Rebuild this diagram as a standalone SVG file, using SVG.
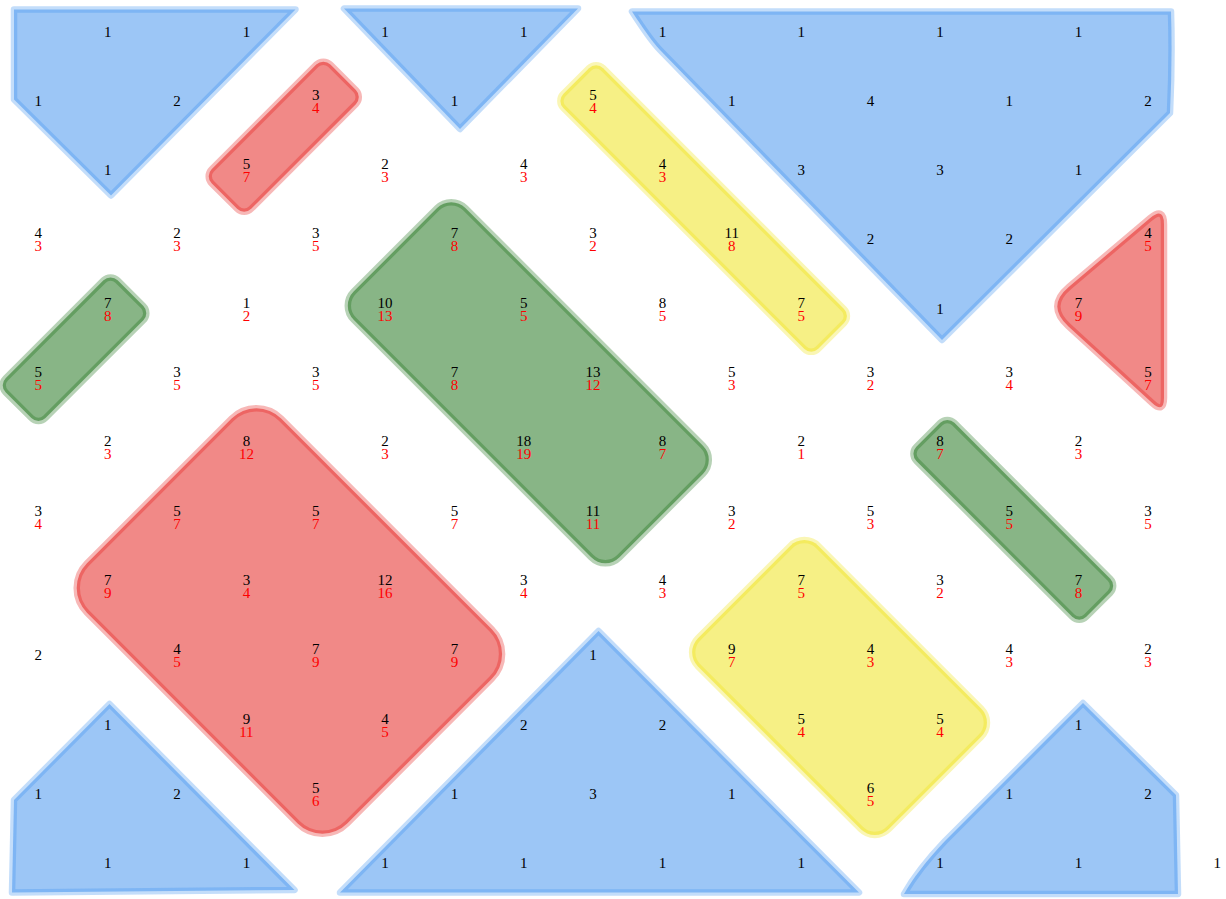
<svg xmlns="http://www.w3.org/2000/svg" width="1226" height="899" viewBox="0 0 1226 899">
<style>
.shape { fill-opacity: 0.5; stroke-opacity: 0.3; stroke-width: 6.5; stroke-linejoin: round; }
.blue { fill: rgb(57,141,237); stroke: rgb(57,141,237); }
.red { fill: rgb(227,19,15); stroke: rgb(227,19,15); }
.green { fill: rgb(17,107,13); stroke: rgb(17,107,13); }
.yellow { fill: rgb(237,225,11); stroke: rgb(237,225,11); }
text { font-family: "Liberation Serif", "Times New Roman", serif; font-size: 15px; text-anchor: middle; fill: #000; }
tspan.r { fill: #ff0000; }
</style>
<rect width="1226" height="899" fill="#ffffff"/>
<g id="regions">
  <path id="blue-tl" class="shape blue" d="M14,9.5 L295.5,9.5 L111,195.5 L14,99.5 Z"/>
  <path id="blue-tm" class="shape blue" d="M344,8.5 L578,8.5 L460,129 Z"/>
  <path id="blue-tr" class="shape blue" d="M632,11.5 L1171,11.5 Q1172.5,60 1170,113 L942,340 L660,50 C652,41.7 640,24 632,11.5 Z"/>
  <path id="blue-bl" class="shape blue" d="M109.5,704 L294.5,890 L12,892.5 L14,800 Z"/>
  <path id="blue-bm" class="shape blue" d="M598.5,631 L859,892.5 L340,892.5 Z"/>
  <path id="blue-br" class="shape blue" d="M1083,703 L1176,795 L1178,894 L904,894 C912,880 925,862 945,841 Z"/>
  <rect id="red-small" class="shape red" x="-84" y="-28" width="168" height="56" rx="10" transform="translate(283.75,136.7) rotate(-45)"/>
  <path id="red-right" class="shape red" d="M1069,286.7 L1150.2,218.1 Q1164,206.5 1164,224.5 L1164,397.8 Q1164,413.8 1152.2,403 L1068.2,326.2 Q1046,306 1069,286.7 Z"/>
  <rect id="red-big" class="shape red" x="-184" y="-137.3" width="368" height="274.6" rx="35" transform="translate(289.4,621) rotate(45)"/>
  <rect id="green-small" class="shape green" x="-79.2" y="-28.2" width="158.4" height="56.4" rx="10" transform="translate(74.5,349.2) rotate(-45)"/>
  <rect id="green-big" class="shape green" x="-188" y="-79" width="376" height="158" rx="20" transform="translate(528.3,382.7) rotate(45)"/>
  <rect id="green-right" class="shape green" x="-120.2" y="-26.9" width="240.4" height="53.8" rx="10" transform="translate(1013.3,519.8) rotate(45)"/>
  <rect id="yellow-top" class="shape yellow" x="-180.3" y="-28.2" width="360.6" height="56.4" rx="10" transform="translate(703.65,208.5) rotate(45)"/>
  <rect id="yellow-bottom" class="shape yellow" x="-135" y="-85.2" width="270" height="170.4" rx="20" transform="translate(839.55,687.5) rotate(45)"/>
</g>
<g id="labels">
  <!-- row 0 -->
  <text x="107.7" y="36.5">1</text>
  <text x="246.4" y="36.5">1</text>
  <text x="385.1" y="36.5">1</text>
  <text x="523.8" y="36.5">1</text>
  <text x="662.5" y="36.5">1</text>
  <text x="801.2" y="36.5">1</text>
  <text x="939.9" y="36.5">1</text>
  <text x="1078.6" y="36.5">1</text>
  <!-- row 1 -->
  <text x="38.3" y="105.8">1</text>
  <text x="177" y="105.8">2</text>
  <text x="315.7" y="99.8">3<tspan class="r" x="315.7" dy="13">4</tspan></text>
  <text x="454.4" y="105.8">1</text>
  <text x="593.1" y="99.8">5<tspan class="r" x="593.1" dy="13">4</tspan></text>
  <text x="731.8" y="105.8">1</text>
  <text x="870.5" y="105.8">4</text>
  <text x="1009.2" y="105.8">1</text>
  <text x="1147.9" y="105.8">2</text>
  <!-- row 2 -->
  <text x="107.7" y="175.1">1</text>
  <text x="246.4" y="169.1">5<tspan class="r" x="246.4" dy="13">7</tspan></text>
  <text x="385.1" y="169.1">2<tspan class="r" x="385.1" dy="13">3</tspan></text>
  <text x="523.8" y="169.1">4<tspan class="r" x="523.8" dy="13">3</tspan></text>
  <text x="662.5" y="169.1">4<tspan class="r" x="662.5" dy="13">3</tspan></text>
  <text x="801.2" y="175.1">3</text>
  <text x="939.9" y="175.1">3</text>
  <text x="1078.6" y="175.1">1</text>
  <!-- row 3 -->
  <text x="38.3" y="238.4">4<tspan class="r" x="38.3" dy="13">3</tspan></text>
  <text x="177" y="238.4">2<tspan class="r" x="177" dy="13">3</tspan></text>
  <text x="315.7" y="238.4">3<tspan class="r" x="315.7" dy="13">5</tspan></text>
  <text x="454.4" y="238.4">7<tspan class="r" x="454.4" dy="13">8</tspan></text>
  <text x="593.1" y="238.4">3<tspan class="r" x="593.1" dy="13">2</tspan></text>
  <text x="731.8" y="238.4">11<tspan class="r" x="731.8" dy="13">8</tspan></text>
  <text x="870.5" y="244.4">2</text>
  <text x="1009.2" y="244.4">2</text>
  <text x="1147.9" y="238.4">4<tspan class="r" x="1147.9" dy="13">5</tspan></text>
  <!-- row 4 -->
  <text x="107.7" y="307.7">7<tspan class="r" x="107.7" dy="13">8</tspan></text>
  <text x="246.4" y="307.7">1<tspan class="r" x="246.4" dy="13">2</tspan></text>
  <text x="385.1" y="307.7">10<tspan class="r" x="385.1" dy="13">13</tspan></text>
  <text x="523.8" y="307.7">5<tspan class="r" x="523.8" dy="13">5</tspan></text>
  <text x="662.5" y="307.7">8<tspan class="r" x="662.5" dy="13">5</tspan></text>
  <text x="801.2" y="307.7">7<tspan class="r" x="801.2" dy="13">5</tspan></text>
  <text x="939.9" y="313.7">1</text>
  <text x="1078.6" y="307.7">7<tspan class="r" x="1078.6" dy="13">9</tspan></text>
  <!-- row 5 -->
  <text x="38.3" y="377">5<tspan class="r" x="38.3" dy="13">5</tspan></text>
  <text x="177" y="377">3<tspan class="r" x="177" dy="13">5</tspan></text>
  <text x="315.7" y="377">3<tspan class="r" x="315.7" dy="13">5</tspan></text>
  <text x="454.4" y="377">7<tspan class="r" x="454.4" dy="13">8</tspan></text>
  <text x="593.1" y="377">13<tspan class="r" x="593.1" dy="13">12</tspan></text>
  <text x="731.8" y="377">5<tspan class="r" x="731.8" dy="13">3</tspan></text>
  <text x="870.5" y="377">3<tspan class="r" x="870.5" dy="13">2</tspan></text>
  <text x="1009.2" y="377">3<tspan class="r" x="1009.2" dy="13">4</tspan></text>
  <text x="1147.9" y="377">5<tspan class="r" x="1147.9" dy="13">7</tspan></text>
  <!-- row 6 -->
  <text x="107.7" y="446.3">2<tspan class="r" x="107.7" dy="13">3</tspan></text>
  <text x="246.4" y="446.3">8<tspan class="r" x="246.4" dy="13">12</tspan></text>
  <text x="385.1" y="446.3">2<tspan class="r" x="385.1" dy="13">3</tspan></text>
  <text x="523.8" y="446.3">18<tspan class="r" x="523.8" dy="13">19</tspan></text>
  <text x="662.5" y="446.3">8<tspan class="r" x="662.5" dy="13">7</tspan></text>
  <text x="801.2" y="446.3">2<tspan class="r" x="801.2" dy="13">1</tspan></text>
  <text x="939.9" y="446.3">8<tspan class="r" x="939.9" dy="13">7</tspan></text>
  <text x="1078.6" y="446.3">2<tspan class="r" x="1078.6" dy="13">3</tspan></text>
  <!-- row 7 -->
  <text x="38.3" y="515.6">3<tspan class="r" x="38.3" dy="13">4</tspan></text>
  <text x="177" y="515.6">5<tspan class="r" x="177" dy="13">7</tspan></text>
  <text x="315.7" y="515.6">5<tspan class="r" x="315.7" dy="13">7</tspan></text>
  <text x="454.4" y="515.6">5<tspan class="r" x="454.4" dy="13">7</tspan></text>
  <text x="593.1" y="515.6">11<tspan class="r" x="593.1" dy="13">11</tspan></text>
  <text x="731.8" y="515.6">3<tspan class="r" x="731.8" dy="13">2</tspan></text>
  <text x="870.5" y="515.6">5<tspan class="r" x="870.5" dy="13">3</tspan></text>
  <text x="1009.2" y="515.6">5<tspan class="r" x="1009.2" dy="13">5</tspan></text>
  <text x="1147.9" y="515.6">3<tspan class="r" x="1147.9" dy="13">5</tspan></text>
  <!-- row 8 -->
  <text x="107.7" y="584.9">7<tspan class="r" x="107.7" dy="13">9</tspan></text>
  <text x="246.4" y="584.9">3<tspan class="r" x="246.4" dy="13">4</tspan></text>
  <text x="385.1" y="584.9">12<tspan class="r" x="385.1" dy="13">16</tspan></text>
  <text x="523.8" y="584.9">3<tspan class="r" x="523.8" dy="13">4</tspan></text>
  <text x="662.5" y="584.9">4<tspan class="r" x="662.5" dy="13">3</tspan></text>
  <text x="801.2" y="584.9">7<tspan class="r" x="801.2" dy="13">5</tspan></text>
  <text x="939.9" y="584.9">3<tspan class="r" x="939.9" dy="13">2</tspan></text>
  <text x="1078.6" y="584.9">7<tspan class="r" x="1078.6" dy="13">8</tspan></text>
  <!-- row 9 -->
  <text x="38.3" y="660.2">2</text>
  <text x="177" y="654.2">4<tspan class="r" x="177" dy="13">5</tspan></text>
  <text x="315.7" y="654.2">7<tspan class="r" x="315.7" dy="13">9</tspan></text>
  <text x="454.4" y="654.2">7<tspan class="r" x="454.4" dy="13">9</tspan></text>
  <text x="593.1" y="660.2">1</text>
  <text x="731.8" y="654.2">9<tspan class="r" x="731.8" dy="13">7</tspan></text>
  <text x="870.5" y="654.2">4<tspan class="r" x="870.5" dy="13">3</tspan></text>
  <text x="1009.2" y="654.2">4<tspan class="r" x="1009.2" dy="13">3</tspan></text>
  <text x="1147.9" y="654.2">2<tspan class="r" x="1147.9" dy="13">3</tspan></text>
  <!-- row 10 -->
  <text x="107.7" y="729.5">1</text>
  <text x="246.4" y="723.5">9<tspan class="r" x="246.4" dy="13">11</tspan></text>
  <text x="385.1" y="723.5">4<tspan class="r" x="385.1" dy="13">5</tspan></text>
  <text x="523.8" y="729.5">2</text>
  <text x="662.5" y="729.5">2</text>
  <text x="801.2" y="723.5">5<tspan class="r" x="801.2" dy="13">4</tspan></text>
  <text x="939.9" y="723.5">5<tspan class="r" x="939.9" dy="13">4</tspan></text>
  <text x="1078.6" y="729.5">1</text>
  <!-- row 11 -->
  <text x="38.3" y="798.8">1</text>
  <text x="177" y="798.8">2</text>
  <text x="315.7" y="792.8">5<tspan class="r" x="315.7" dy="13">6</tspan></text>
  <text x="454.4" y="798.8">1</text>
  <text x="593.1" y="798.8">3</text>
  <text x="731.8" y="798.8">1</text>
  <text x="870.5" y="792.8">6<tspan class="r" x="870.5" dy="13">5</tspan></text>
  <text x="1009.2" y="798.8">1</text>
  <text x="1147.9" y="798.8">2</text>
  <!-- row 12 -->
  <text x="107.7" y="868.1">1</text>
  <text x="246.4" y="868.1">1</text>
  <text x="385.1" y="868.1">1</text>
  <text x="523.8" y="868.1">1</text>
  <text x="662.5" y="868.1">1</text>
  <text x="801.2" y="868.1">1</text>
  <text x="939.9" y="868.1">1</text>
  <text x="1078.6" y="868.1">1</text>
  <text x="1217.3" y="868.1">1</text>
</g>
</svg>
